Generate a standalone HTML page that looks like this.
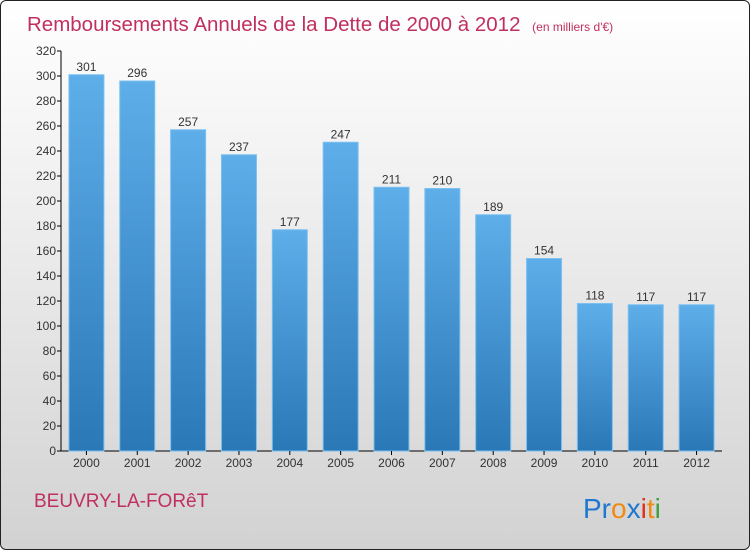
<!DOCTYPE html>
<html><head><meta charset="utf-8"><style>
body{margin:0;width:750px;height:550px;overflow:hidden;font-family:"Liberation Sans",sans-serif}
#wrap{position:absolute;left:0;top:0;width:748px;height:548px;border:1px solid #222;border-radius:6px;background:linear-gradient(#ffffff,#f2f2f2 30%,#d2d2d2);overflow:hidden}
</style></head><body>
<div id="wrap">
<svg id="chart" width="750" height="550">
<defs><linearGradient id="bg" x1="0" y1="0" x2="0" y2="1"><stop offset="0" stop-color="#5eaeea"/><stop offset="1" stop-color="#2a78b6"/></linearGradient></defs>
<text x="26" y="30" font-size="20.5" fill="#c0305e">Remboursements Annuels de la Dette de 2000 à 2012 <tspan font-size="12" dx="6">(en milliers d'€)</tspan></text>
<text x="33" y="506" font-size="19" fill="#c0305e">BEUVRY-LA-FORêT</text>
<text x="582" y="517" font-size="28"><tspan fill="#1e78d0">Pr</tspan><tspan fill="#f08a10">o</tspan><tspan fill="#1e78d0">x</tspan><tspan fill="#e03020">i</tspan><tspan fill="#f08a10">t</tspan><tspan fill="#40a040">i</tspan></text>
<g id="g"></g>
</svg></div>
<script>
const categories=["2000","2001","2002","2003","2004","2005","2006","2007","2008","2009","2010","2011","2012"];
const values=[301,296,257,237,177,247,211,210,189,154,118,117,117];
const ticks=[0,20,40,60,80,100,120,140,160,180,200,220,240,260,280,300,320];
const ns="http://www.w3.org/2000/svg",g=document.getElementById('g');
const x0=60,x1=721,y0=450,y1=50,max=320;
const band=(x1-x0)/categories.length;
const y=v=>y0-(v/max)*(y0-y1);
function mk(t,a){const e=document.createElementNS(ns,t);for(const k in a)e.setAttribute(k,a[k]);g.appendChild(e);return e;}
let ax=mk('line',{x1:x0,y1:y1,x2:x0,y2:y0,stroke:'#000'});


let bx=mk('line',{x1:x0,y1:y0,x2:x1,y2:y0,stroke:'#000'});


ticks.forEach(t=>{
 mk('line',{x1:x0-4,x2:x0,y1:y(t),y2:y(t),stroke:'#000'});
 let l=mk('text',{x:x0-5,y:y(t)+4,'font-size':12,'text-anchor':'end',fill:'#333'});l.textContent=t;
 
 
});
categories.forEach((c,i)=>{
 const cx=x0+band*(i+0.5),v=values[i];
 let r=mk('rect',{x:cx-17.5,y:y(v),width:35,height:y0-y(v),fill:'url(#bg)',stroke:'#7cc0f0','stroke-width':1});
 
 
 let l=mk('text',{x:cx,y:y(v)-4,'font-size':12,'text-anchor':'middle',fill:'#333'});l.textContent=v;
 
 
 mk('line',{x1:cx,x2:cx,y1:y0,y2:y0+4,stroke:'#000'});
 let xl=mk('text',{x:cx,y:y0+16,'font-size':12,'text-anchor':'middle',fill:'#333'});xl.textContent=c;
 
 
});
</script>
</body></html>
